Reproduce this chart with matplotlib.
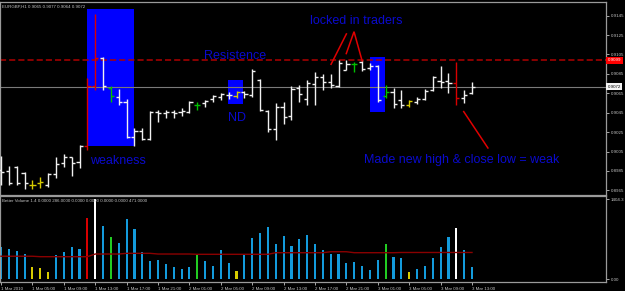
import numpy as np
import matplotlib
matplotlib.use('Agg')
import matplotlib.pyplot as plt
from matplotlib.patches import Rectangle
from matplotlib.transforms import blended_transform_factory

plt.rcParams['font.family'] = ['Liberation Sans', 'DejaVu Sans']

# ---------------- data ----------------
symbol_header = "EURGBP,H1 0.9065 0.9077 0.9064 0.9072"
volume_header = "Better Volume 1.4 0.0000 286.0000 0.0000 0.0000 0.0000 0.0000 471.0000"

time_labels = ['1 Mar 2010', '1 Mar 05:00', '1 Mar 09:00', '1 Mar 13:00', '1 Mar 17:00',
               '1 Mar 21:00', '2 Mar 01:00', '2 Mar 05:00', '2 Mar 09:00', '2 Mar 13:00',
               '2 Mar 17:00', '2 Mar 21:00', '3 Mar 01:00', '3 Mar 05:00', '3 Mar 09:00',
               '3 Mar 13:00']
time_label_bars = [0, 4, 8, 12, 16, 20, 24, 28, 32, 36, 40, 44, 48, 52, 56, 60]

opens = [0.8986, 0.8985, 0.8989, 0.8983, 0.8971, 0.8973, 0.8970, 0.8982, 0.8993, 0.8999,
         0.8994, 0.9011, 0.9073, 0.9101, 0.9070, 0.9061, 0.9056, 0.9020, 0.9026, 0.9018,
         0.9046, 0.9045, 0.9046, 0.9046, 0.9046, 0.9053, 0.9055, 0.9059, 0.9061, 0.9063,
         0.9062, 0.9066, 0.9063, 0.9079, 0.9047, 0.9028, 0.9051, 0.9042, 0.9070, 0.9059,
         0.9075, 0.9082, 0.9077, 0.9073, 0.9089, 0.9095, 0.9097, 0.9091, 0.9093, 0.9062,
         0.9066, 0.9058, 0.9053, 0.9056, 0.9059, 0.9068, 0.9078, 0.9078, 0.9076, 0.9060,
         0.9065]
highs = [0.9000, 0.8990, 0.8990, 0.8984, 0.8976, 0.8979, 0.8983, 0.8999, 0.9002, 0.8999,
         0.9012, 0.9081, 0.9147, 0.9102, 0.9073, 0.9069, 0.9059, 0.9029, 0.9029, 0.9047,
         0.9048, 0.9048, 0.9048, 0.9050, 0.9057, 0.9056, 0.9058, 0.9063, 0.9065, 0.9066,
         0.9067, 0.9067, 0.9090, 0.9080, 0.9048, 0.9055, 0.9056, 0.9073, 0.9074, 0.9079,
         0.9087, 0.9085, 0.9085, 0.9099, 0.9099, 0.9097, 0.9099, 0.9096, 0.9094, 0.9074,
         0.9070, 0.9068, 0.9058, 0.9061, 0.9069, 0.9083, 0.9093, 0.9086, 0.9097, 0.9068,
         0.9077]
lows = [0.8971, 0.8971, 0.8971, 0.8966, 0.8966, 0.8967, 0.8968, 0.8978, 0.8989, 0.8980,
        0.8988, 0.9007, 0.9068, 0.9068, 0.9056, 0.9053, 0.9019, 0.9011, 0.9017, 0.9017,
        0.9035, 0.9040, 0.9040, 0.9042, 0.9045, 0.9048, 0.9051, 0.9056, 0.9058, 0.9059,
        0.9060, 0.9060, 0.9061, 0.9047, 0.9025, 0.9017, 0.9033, 0.9037, 0.9056, 0.9053,
        0.9053, 0.9068, 0.9070, 0.9072, 0.9089, 0.9087, 0.9088, 0.9089, 0.9056, 0.9060,
        0.9050, 0.9050, 0.9051, 0.9054, 0.9058, 0.9067, 0.9070, 0.9065, 0.9053, 0.9055,
        0.9064]
closes = [0.8984, 0.8973, 0.8973, 0.8973, 0.8971, 0.8974, 0.8982, 0.8992, 0.8999, 0.8993,
          0.9011, 0.9073, 0.9101, 0.9073, 0.9062, 0.9056, 0.9020, 0.9026, 0.9018, 0.9046,
          0.9045, 0.9046, 0.9045, 0.9047, 0.9056, 0.9053, 0.9057, 0.9062, 0.9064, 0.9063,
          0.9066, 0.9064, 0.9088, 0.9048, 0.9028, 0.9051, 0.9041, 0.9069, 0.9064, 0.9076,
          0.9082, 0.9077, 0.9074, 0.9096, 0.9095, 0.9095, 0.9090, 0.9093, 0.9058, 0.9066,
          0.9054, 0.9053, 0.9057, 0.9059, 0.9067, 0.9082, 0.9077, 0.9076, 0.9060, 0.9063,
          0.9072]
price_color_codes = list("WWWW" + "YY" + "WWWWW" + "RR" + "W" + "G" + "WWWWWWWWWW" + "G" +
                         "WWWW" + "Y" + "WWWWWWWWWWWWWW" + "G" + "WWW" + "G" + "WW" + "Y" +
                         "WWWWW" + "R" + "WW")

volumes = [572, 532, 497, 444, 211, 193, 135, 426, 484, 572,
           532, 1071, 1404, 935, 742, 642, 1053, 878, 484, 321,
           339, 269, 211, 181, 211, 426, 320, 233, 514, 281,
           146, 439, 730, 818, 923, 614, 765, 584, 707, 777,
           614, 514, 444, 444, 281, 309, 233, 163, 333, 620,
           386, 374, 133, 181, 233, 374, 562, 737, 895, 514,
           211]
volume_color_codes = list("BBBB" + "YYY" + "BBBB" + "R" + "W" + "B" + "G" + "BBBBBBBBBB" + "G" +
                          "BBBB" + "Y" + "BBBBBBBBBBBBBBBBBB" + "G" + "BB" + "Y" + "BBBBB" +
                          "W" + "BB")
volume_avg = [405] * 5 + [397] * 7 + [444] * 4 + [456] * 4 + [444] * 5 + [439] * 10 + \
             [467] * 7 + [484] * 3 + [467] * 6 + [471] * 10

price_ticks = [0.8965, 0.8985, 0.9005, 0.9025, 0.9045, 0.9065, 0.9085, 0.9105, 0.9125, 0.9145]
resistance_level = 0.9099
last_price = 0.9072
volume_max_label = 1404.3

# annotation boxes: (bar_from, bar_to, price_low, price_high)
box_weak = (10.96, 16.94, 0.9011, 0.9152)
box_nd = (28.9, 30.8, 0.9054, 0.9079)
box_locked = (47.0, 48.9, 0.9046, 0.9102)
# annotation red lines: ((bar, price), (bar, price))
red_lines = [((42.0, 0.90942), (44.04, 0.91269)),
             ((43.95, 0.91052), (44.97, 0.91285)),
             ((44.97, 0.91285), (46.03, 0.90976)),
             ((58.89, 0.90468), (62.08, 0.90080))]
# annotation texts: (bar, price baseline, text)
notes = [(25.86, 0.91004, 'Resistence'),
         (39.36, 0.91365, 'locked in traders'),
         (11.34, 0.89918, 'weakness'),
         (28.96, 0.90368, 'ND'),
         (46.28, 0.89928, 'Made new high & close low = weak')]

# ---------------- styling ----------------
W, H = 625, 291
BG = 'black'
FRAME = '#9a9a9a'
LABEL = '#c4c4c4'
SMALL = 3.2
price_colors = {'W': '#f0f0f0', 'Y': '#d8cc00', 'R': '#d80000', 'G': '#00c000'}
volume_colors = {'B': '#139bdc', 'Y': '#d8cc00', 'R': '#d80000', 'W': '#ffffff', 'G': '#22cc22'}
NOTE_BLUE = '#0a0acd'

fig = plt.figure(figsize=(W / 100, H / 100), dpi=100, facecolor=BG)


def px_axes(x0, y0, x1, y1):
    return fig.add_axes([x0 / W, 1 - y1 / H, (x1 - x0) / W, (y1 - y0) / H])


XLIM = (-0.13, 77.07)

# ---------------- price panel ----------------
ax = px_axes(0, 2, 606, 195)
ax.set_facecolor(BG)
ax.set_xlim(*XLIM)
ax.set_ylim(0.89602, 0.91591)

for (b0, b1, p0, p1) in (box_weak, box_nd, box_locked):
    ax.add_patch(Rectangle((b0, p0), b1 - b0, p1 - p0, facecolor='#0000ff',
                           edgecolor='none', zorder=1))

ax.axhline(resistance_level, color='#b00000', lw=1.1, ls=(0, (4.0, 2.0)), zorder=2)
ax.axhline(last_price, color='#7a7a7a', lw=0.8, zorder=2)

x = np.arange(len(opens))
pc = [price_colors[c] for c in price_color_codes]
ax.vlines(x, lows, highs, colors=pc, lw=1.0, zorder=3)
ax.hlines(opens, x - 0.4, x, colors=pc, lw=1.0, zorder=3)
ax.hlines(closes, x, x + 0.4, colors=pc, lw=1.0, zorder=3)

for (a, b) in red_lines:
    ax.plot([a[0], b[0]], [a[1], b[1]], color='#e00000', lw=1.1, zorder=4,
            solid_capstyle='butt')

for (bx, py, txt) in notes:
    ax.text(bx, py, txt, color=NOTE_BLUE, fontsize=9, ha='left', va='baseline', zorder=5)

ax.set_xticks([])
ax.yaxis.tick_right()
ax.set_yticks(price_ticks)
ax.set_yticklabels([f'{v:.4f}' for v in price_ticks])
ax.tick_params(axis='y', right=True, left=False, labelright=True, labelleft=False,
               length=2, width=0.6, pad=1.5, labelsize=SMALL, colors=LABEL)
for s in ax.spines.values():
    s.set_color(FRAME)
    s.set_linewidth(0.9)

tr = blended_transform_factory(ax.transAxes, ax.transData)
ax.text(1.003, resistance_level, f'{resistance_level:.4f}', transform=tr, fontsize=SMALL,
        color='white', va='center', ha='left',
        bbox=dict(boxstyle='square,pad=0.3', fc='#ff0000', ec='none'), clip_on=False)
ax.text(1.003, last_price, f'{last_price:.4f}', transform=tr, fontsize=SMALL,
        color='black', va='center', ha='left',
        bbox=dict(boxstyle='square,pad=0.3', fc='#f4f4f4', ec='none'), clip_on=False)
ax.text(0.004, 0.985, symbol_header, transform=ax.transAxes, fontsize=SMALL, color=LABEL,
        ha='left', va='top')

# ---------------- volume panel ----------------
av = px_axes(0, 196, 606, 282)
av.set_facecolor(BG)
av.set_xlim(*XLIM)
av.set_ylim(-47, 1462)
vc = [volume_colors[c] for c in volume_color_codes]
av.bar(x, volumes, width=0.27, color=vc, zorder=2)
av.plot(x, volume_avg, color='#8a0000', lw=1.0, zorder=3)

av.yaxis.tick_right()
av.set_yticks([0, volume_max_label])
av.set_yticklabels(['0.00', f'{volume_max_label:.1f}'])
av.tick_params(axis='y', right=True, left=False, labelright=True, labelleft=False,
               length=2, width=0.6, pad=1.5, labelsize=SMALL, colors=LABEL)
av.set_xticks(time_label_bars)
av.set_xticklabels(time_labels, ha='left')
av.tick_params(axis='x', length=2.5, width=0.6, pad=0.8, labelsize=SMALL, colors=LABEL)
for s in av.spines.values():
    s.set_color(FRAME)
    s.set_linewidth(0.9)
av.text(0.004, 0.97, volume_header, transform=av.transAxes, fontsize=SMALL, color=LABEL,
        ha='left', va='top')

fig.savefig('out.png', dpi=100, facecolor=BG)
